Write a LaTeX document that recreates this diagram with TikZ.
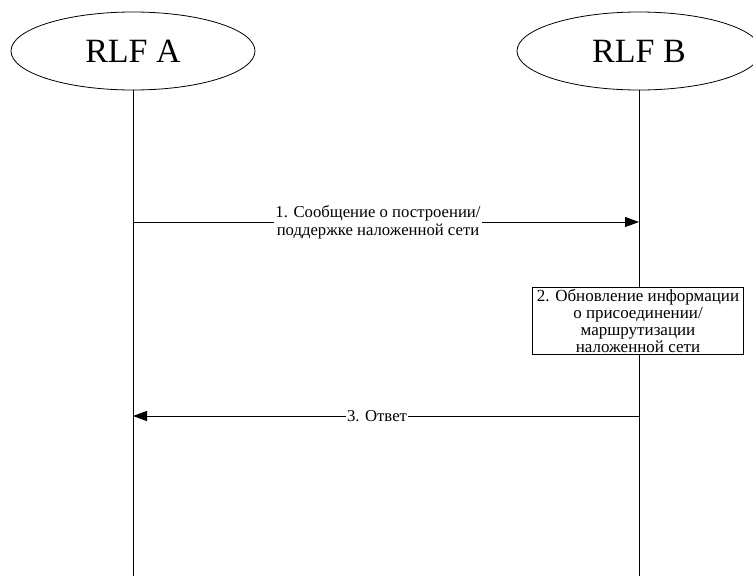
\documentclass[tikz,border=0pt]{standalone}
\usepackage{fontspec}
\setmainfont{Liberation Serif}
\usetikzlibrary{arrows.meta,shapes.geometric}
\begin{document}
\begin{tikzpicture}[x=1pt,y=-1pt,
  entity/.style={draw,ellipse,minimum width=244pt,minimum height=78pt,font=\fontsize{34}{36}\selectfont,line width=0.8pt},
  life/.style={line width=1pt},
  msg/.style={line width=1pt,-{Triangle[length=14pt,width=10pt]}},
  lbl/.style={fill=white,inner sep=1pt,align=center,font=\fontsize{16.7}{18}\selectfont},
  actbox/.style={draw,fill=white,align=center,inner sep=2pt,line width=0.8pt,minimum width=211pt,minimum height=66pt,font=\fontsize{17}{17}\selectfont}]
\useasboundingbox (0,0) rectangle (753,579);
\node[entity] (A) at (133,51) {RLF A};
\node[entity] (B) at (639,51) {RLF B};
\coordinate (Aend) at (133,576);
\coordinate (Bend) at (639,576);
\draw[life] (A.south) -- (Aend);
\draw[life] (B.south) -- (Bend);
\coordinate (m1s) at (133,222);
\coordinate (m1e) at (639,222);
\draw[msg] (m1s) -- (m1e);
\node[lbl] (l1) at (378,222) {1. Сообщение о построении/\\поддержке наложенной сети};
\node[actbox] (box) at (638,321) {2. Обновление информации\\о присоединении/\\маршрутизации\\наложенной сети};
\coordinate (m3s) at (639,416);
\coordinate (m3e) at (133,416);
\draw[msg] (m3s) -- (m3e);
\node[lbl] (l3) at (377,416) {3. Ответ};
\end{tikzpicture}
\end{document}
